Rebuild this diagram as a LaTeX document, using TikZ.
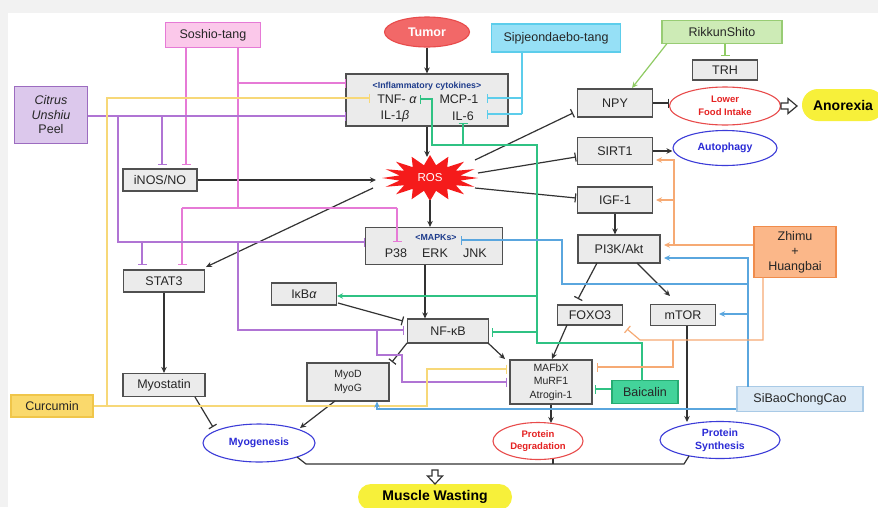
\documentclass[tikz,border=0pt]{standalone}
\usepackage{fontspec}
\setmainfont{Liberation Sans}
\usetikzlibrary{arrows.meta,shapes.geometric,calc}

\definecolor{bgray}{HTML}{F2F2F2}
\definecolor{boxfill}{HTML}{EBEBEB}
\definecolor{boxline}{HTML}{505050}
\definecolor{dk}{HTML}{333333}
\definecolor{txt}{HTML}{262626}
\definecolor{pinkl}{HTML}{E67AD6}
\definecolor{pinkfill}{HTML}{FBC8EA}
\definecolor{purl}{HTML}{B074D4}
\definecolor{purfill}{HTML}{DCC8EC}
\definecolor{purline}{HTML}{9C6CC0}
\definecolor{yell}{HTML}{F7D878}
\definecolor{yelfill}{HTML}{FAD96C}
\definecolor{yelline}{HTML}{F0C64A}
\definecolor{cyanl}{HTML}{5CCDEB}
\definecolor{cyanfill}{HTML}{96E0F6}
\definecolor{grnl}{HTML}{2FC283}
\definecolor{grnfill}{HTML}{43D39A}
\definecolor{grnline}{HTML}{26AC72}
\definecolor{bluel}{HTML}{5AA6DE}
\definecolor{bluefill}{HTML}{DCEAF6}
\definecolor{blueline}{HTML}{A9CAE6}
\definecolor{orl}{HTML}{F6AA74}
\definecolor{orfill}{HTML}{FBB789}
\definecolor{orline}{HTML}{F08C4C}
\definecolor{lgl}{HTML}{8FCB63}
\definecolor{lgfill}{HTML}{CDEBB6}
\definecolor{lgline}{HTML}{98CC74}
\definecolor{redl}{HTML}{E84B4B}
\definecolor{redt}{HTML}{E52222}
\definecolor{tumorfill}{HTML}{F26868}
\definecolor{bluet}{HTML}{2B2BD6}
\definecolor{bluee}{HTML}{3C3CD8}
\definecolor{ylw}{HTML}{F7F03A}
\definecolor{rosred}{HTML}{F51B1B}
\definecolor{navy}{HTML}{1E3C8C}

\begin{document}
\begin{tikzpicture}[x=1pt,y=-1pt,
  base/.style={inner sep=0pt, font=\fontsize{12.5}{14.5}\selectfont, text=txt, align=center},
  gbox/.style={base, rectangle, draw=boxline, fill=boxfill, line width=1.2pt},
  ell/.style={base, ellipse, line width=1.1pt, fill=white},
  redell/.style={ell, draw=redl, text=redt, font=\bfseries\fontsize{9.5}{12.5}\selectfont},
  blueell/.style={ell, draw=bluee, text=bluet, font=\bfseries\fontsize{10.5}{13}\selectfont},
  stad/.style={base, fill=ylw, font=\bfseries\fontsize{14}{16}\selectfont, text=black},
  small/.style={base, font=\fontsize{10.5}{13.5}\selectfont},
  con/.style={draw=dk, line width=1.2pt},
  cl/.style={line width=1.2pt},
  act/.style={-{Stealth[length=6pt,width=5.5pt]}},
  inh/.style={-{Bar[width=9pt,line width=1.2pt]}},
  hollow/.style={draw=dk, line width=1.2pt, fill=white, line join=miter}
]
\useasboundingbox (0,0) rectangle (878,507);
\begin{scope}
\clip (0,0) rectangle (878,507);
\fill[bgray] (0,0) rectangle (878,507);
\fill[white] (8,13) rectangle (878,507);

% ---------- ROS star ----------
\fill[rosred] plot[variable=\i, samples at={0,...,31}]
  ({430+ifthenelse(mod(\i,2)==0,48,31)*cos(\i*11.25)},{178+ifthenelse(mod(\i,2)==0,23,13)*sin(\i*11.25)}) -- cycle;
\node[base, ellipse, minimum width=92pt, minimum height=44pt, text=white, font=\fontsize{11.5}{13}\selectfont] (ros) at (430,178) {ROS};

% ---------- nodes ----------
\node[gbox, minimum width=95pt, minimum height=25pt, draw=pinkl, fill=pinkfill] (soshio) at (213,35) {Soshio-tang};
\node[gbox, minimum width=73pt, minimum height=57pt, draw=purline, fill=purfill] (citrus) at (51,115) {\textit{Citrus}\\\textit{Unshiu}\\Peel};
\node[ell, minimum width=85pt, minimum height=30pt, fill=tumorfill, draw=redl, text=white, font=\bfseries\fontsize{12.5}{14}\selectfont] (tumor) at (427,32) {Tumor};
\node[gbox, minimum width=129pt, minimum height=28pt, draw=cyanl, fill=cyanfill] (sipjeon) at (556,38) {Sipjeondaebo-tang};
\node[gbox, minimum width=120pt, minimum height=23pt, draw=lgline, fill=lgfill] (rikkun) at (722,32) {RikkunShito};
\node[gbox, minimum width=65pt, minimum height=20pt] (trh) at (725,70) {TRH};

\node[gbox, minimum width=162pt, minimum height=52pt] (cyto) at (427,100) {};
\node[base, font=\bfseries\fontsize{8.8}{9}\selectfont, text=navy] (cytot) at (427,86) {<Inflammatory cytokines>};
\node[base] (tnf) at (397,99) {TNF- \textit{α}};
\node[base] (mcp) at (459,99) {MCP-1};
\node[base] (il1) at (395,116) {IL-1\textit{β}};
\node[base] (il6) at (463,116) {IL-6};

\node[gbox, minimum width=75pt, minimum height=28pt] (npy) at (615,103) {NPY};
\node[redell, minimum width=111pt, minimum height=38pt] (lfi) at (725,106) {Lower\\Food Intake};
\node[stad, rounded corners=16pt, minimum width=82pt, minimum height=32pt] (anorexia) at (843,105) {Anorexia};
\node[gbox, minimum width=75pt, minimum height=27pt] (sirt1) at (615,151) {SIRT1};
\node[blueell, minimum width=104pt, minimum height=35pt] (autophagy) at (725,148) {Autophagy};
\node[gbox, minimum width=75pt, minimum height=26pt] (igf1) at (615,200) {IGF-1};
\node[gbox, minimum width=82pt, minimum height=28pt] (pi3k) at (619,249) {PI3K/Akt};
\node[gbox, minimum width=82pt, minimum height=51pt, draw=orline, fill=orfill, font=\fontsize{12.5}{15}\selectfont] (zhimu) at (795,252) {Zhimu\\+\\Huangbai};

\node[gbox, minimum width=74pt, minimum height=22pt] (inos) at (160,180) {iNOS/NO};

\node[gbox, minimum width=137pt, minimum height=37pt] (mapk) at (434,246) {};
\node[base, font=\bfseries\fontsize{8.8}{9}\selectfont, text=navy] (mapkt) at (436,238) {<MAPKs>};
\node[base] (p38) at (396,253) {P38};
\node[base] (erk) at (435,253) {ERK};
\node[base] (jnk) at (475,253) {JNK};

\node[gbox, minimum width=81pt, minimum height=22pt] (stat3) at (164,281) {STAT3};
\node[gbox, minimum width=65pt, minimum height=22pt] (ikba) at (304,294) {IκB\textit{α}};
\node[gbox, minimum width=81pt, minimum height=24pt] (nfkb) at (448,331) {NF-κB};
\node[gbox, minimum width=65pt, minimum height=20pt] (foxo3) at (590,315) {FOXO3};
\node[gbox, minimum width=65pt, minimum height=21pt] (mtor) at (683,315) {mTOR};
\node[gbox, minimum width=82pt, minimum height=23pt] (myostatin) at (164,385) {Myostatin};
\node[gbox, small, minimum width=82pt, minimum height=38pt] (myod) at (348,382) {MyoD\\MyoG};
\node[gbox, small, minimum width=82pt, minimum height=44pt] (mafbx) at (551,382) {MAFbX\\MuRF1\\Atrogin-1};
\node[gbox, minimum width=66pt, minimum height=23pt, draw=grnline, fill=grnfill] (baicalin) at (645,392) {Baicalin};
\node[gbox, minimum width=126pt, minimum height=25pt, draw=blueline, fill=bluefill] (sibao) at (800,399) {SiBaoChongCao};
\node[gbox, minimum width=82pt, minimum height=22pt, draw=yelline, fill=yelfill] (curcumin) at (52,406) {Curcumin};

\node[blueell, minimum width=112pt, minimum height=38pt] (myogen) at (259,443) {Myogenesis};
\node[redell, minimum width=90pt, minimum height=37pt] (protdeg) at (538,441) {Protein\\Degradation};
\node[blueell, minimum width=120pt, minimum height=37pt] (protsyn) at (720,440) {Protein\\Synthesis};
\node[stad, rounded corners=13pt, minimum width=154pt, minimum height=26pt] (muscle) at (435,497) {Muscle Wasting};

% ---------- black connectors ----------
\draw[con,act] (tumor.south) -- (cyto.north);
\draw[con,act] (cyto.south) -- (427,157);
\draw[con,act] (ros.south) -- (ros.south |- mapk.north);
\draw[con,act] ([xshift=-9pt]mapk.south) -- ([xshift=-9pt]mapk.south |- nfkb.north);
\draw[con,act] (inos.east) -- (376,180);
\draw[con,act] (373,188) -- (206,267);
\draw[con,inh] (475,160) -- (573,113);
\draw[con,inh] (478,173) -- (576,157);
\draw[con,inh] (475,188) -- (576,198);
\draw[con,inh] (npy.east) -- (lfi.west |- npy.east);
\draw[con,act] (sirt1.east) -- (autophagy.west |- sirt1.east);
\draw[con,act] (igf1.south) -- (igf1.south |- pi3k.north);
\draw[con,inh] (597,263) -- (578,299);
\draw[con,act] (637,263) -- (670,296);
\draw[con,act] (567,325) -- (552,359);
\draw[con,act] (687,326) -- (687,422);
\draw[con,act] (mafbx.south) -- (551,423);
\draw[con,act] (488,343) -- (505,359);
\draw[con,inh] (407,343) -- (392,362);
\draw[con,inh] (338,303) -- (403,321);
\draw[con,act] (stat3.south) -- (myostatin.north);
\draw[con,inh] (195,397) -- (213,427);
\draw[con,act] (335,401) -- (300,428);
\draw[con] (297,457) -- (306,464) -- (684,464) -- (689,456);
\draw[con] (553,458.5) -- (553,464);
% hollow block arrows
\draw[hollow] (432,470) -- (438,470) -- (438,476) -- (442.5,476) -- (435,484) -- (427.5,476) -- (432,476) -- cycle;
\draw[hollow] (781,103) -- (788,103) -- (788,98.5) -- (797,106) -- (788,113.5) -- (788,109) -- (781,109) -- cycle;

% ---------- Soshio-tang (pink) ----------
\draw[cl,pinkl,inh] (186,47.5) -- (186,165);
\draw[cl,pinkl] (238,47.5) -- (238,208);
\draw[cl,pinkl,inh] (238,83) -- (346,83);
\draw[cl,pinkl] (182,208) -- (397,208);
\draw[cl,pinkl,inh] (182,208) -- (182,265);
\draw[cl,pinkl,inh] (397,208) -- (397,242);

% ---------- Citrus Unshiu Peel (purple) ----------
\draw[cl,purl,inh] (citrus.east |- 0,116) -- (346,116);
\draw[cl,purl,inh] (162,116) -- (162,165);
\draw[cl,purl,inh] (118,116) -- (118,242) -- (365,242);
\draw[cl,purl,inh] (142,242) -- (142,265);
\draw[cl,purl,inh] (238,242) -- (238,330) -- (404,330);
\draw[cl,purl,inh] (377,330) -- (377,355) -- (402,355) -- (402,382) -- (507,382);

% ---------- Curcumin (yellow) ----------
\draw[cl,yell,inh] (curcumin.east) -- (427,406) -- (427,369) -- (507,369);
\draw[cl,yell,inh] (107,406) -- (107,98) -- (370,98);

% ---------- Sipjeondaebo-tang (cyan) ----------
\draw[cl,cyanl] (522,52) -- (522,114);
\draw[cl,cyanl,inh] (522,98) -- (487,98);
\draw[cl,cyanl,inh] (522,114) -- (487,114);

% ---------- Baicalin (green) ----------
\draw[cl,grnl,inh] (642,380.5) -- (642,343) -- (537,343) -- (537,145) -- (432,145) -- (432,99) -- (420,99);
\draw[cl,grnl,act] (537,296) -- (ikba.east |- 0,296);
\draw[cl,grnl,inh] (537,332) -- (492,332);
\draw[cl,grnl,inh] (463,145) -- (463,123);
\draw[cl,grnl,inh] (baicalin.west |- 0,389) -- (595,389);

% ---------- SiBaoChongCao (blue) ----------
\draw[cl,bluel,act] (748,386.5) -- (748,258) -- (664,258);
\draw[cl,bluel,inh] (748,284) -- (562,284) -- (562,240) -- (461,240);
\draw[cl,bluel,act] (748,314) -- (719,314);
\draw[cl,bluel,act] (sibao.west |- 0,409) -- (377,409) -- (myod.south -| 377,0);

% ---------- Zhimu + Huangbai (orange) ----------
\draw[cl,orl,act] (zhimu.west |- 0,245) -- (664,245);
\draw[cl,orl,act] (674,245) -- (674,160) -- (656,160);
\draw[cl,orl,act] (674,200) -- (656,200);
\draw[cl,orl,inh] (763,277.5) -- (763,340) -- (640,340) -- (627,329);
\draw[cl,orl,inh] (673,340) -- (673,367) -- (597,367);

% ---------- RikkunShito (light green) ----------
\draw[cl,lgl,act] (667,43.5) -- (632,88);
\draw[cl,lgl,inh] (725,43.5) -- (725,56);
\end{scope}
\end{tikzpicture}
\end{document}
